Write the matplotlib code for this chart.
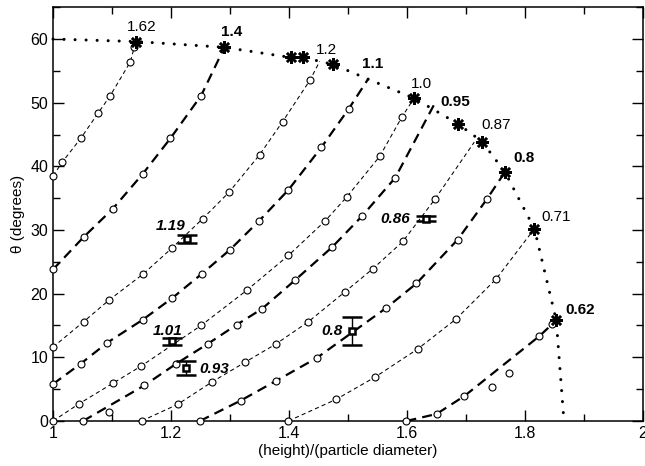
import matplotlib
matplotlib.use("Agg")
import matplotlib.pyplot as plt
from matplotlib.ticker import MultipleLocator

plt.rcParams['font.family'] = ['Liberation Sans', 'DejaVu Sans']

# curvas teoricas (circulos), alternando punteada fina / trazo grueso
ax_A = [1.0, 1.016, 1.047, 1.076, 1.097, 1.131, 1.138, 1.141]
ay_A = [38.5, 40.7, 44.4, 48.3, 51.1, 56.4, 58.8, 59.6]
ax_B = [1.0, 1.052, 1.101, 1.152, 1.199, 1.251, 1.288]
ay_B = [23.8, 28.9, 33.3, 38.8, 44.4, 51.1, 58.2]
ax_C = [1.0, 1.052, 1.095, 1.153, 1.202, 1.254, 1.298, 1.350, 1.389, 1.436, 1.452]
ay_C = [11.6, 15.6, 19.0, 23.1, 27.2, 31.8, 35.9, 41.8, 47.0, 53.6, 56.5]
ax_D = [1.0, 1.047, 1.092, 1.152, 1.202, 1.252, 1.300, 1.349, 1.399, 1.455, 1.501, 1.534]
ay_D = [5.8, 9.0, 12.3, 15.9, 19.3, 23.1, 26.9, 31.4, 36.3, 43.0, 49.0, 53.7]
ax_E = [1.0, 1.044, 1.101, 1.149, 1.251, 1.328, 1.399, 1.461, 1.498, 1.554, 1.591, 1.612]
ay_E = [0.0, 2.7, 5.9, 8.6, 15.0, 20.5, 26.0, 31.4, 35.2, 41.6, 47.7, 50.7]
ax_F = [1.051, 1.155, 1.209, 1.262, 1.311, 1.354, 1.410, 1.473, 1.524, 1.580, 1.650]
ay_F = [0.0, 5.6, 9.0, 12.1, 15.1, 17.6, 22.1, 27.3, 32.2, 38.2, 50.4]
ax_G = [1.150, 1.211, 1.269, 1.325, 1.378, 1.433, 1.495, 1.542, 1.593, 1.647, 1.714]
ay_G = [0.0, 2.6, 6.1, 9.2, 12.1, 15.6, 20.3, 23.9, 28.2, 34.8, 43.8]
ax_H = [1.249, 1.318, 1.378, 1.447, 1.564, 1.616, 1.686, 1.735, 1.766]
ay_H = [0.0, 3.2, 6.3, 9.9, 17.7, 21.6, 28.5, 34.8, 39.1]
ax_I = [1.399, 1.480, 1.546, 1.618, 1.683, 1.751, 1.816]
ay_I = [0.0, 3.4, 6.9, 11.3, 16.0, 22.3, 30.2]
ax_J = [1.599, 1.650, 1.697, 1.824, 1.846, 1.853]
ay_J = [0.0, 1.1, 3.9, 13.3, 15.2, 15.8]
# circulos fuera de las lineas
sx = [1.095, 1.744, 1.773]
sy = [1.4, 5.4, 7.5]

# frontera (linea de puntos) y estrellas
bx = [1.0, 1.141, 1.290, 1.403, 1.424, 1.452, 1.475, 1.534, 1.612, 1.686, 1.727, 1.766, 1.816, 1.853, 1.866]
by = [60.0, 59.6, 58.7, 57.1, 57.1, 56.5, 56.0, 53.7, 50.7, 46.7, 43.9, 39.1, 30.2, 15.8, 0.0]
star_x = [1.141, 1.290, 1.403, 1.424, 1.475, 1.612, 1.686, 1.727, 1.766, 1.816, 1.853]
star_y = [59.6, 58.7, 57.1, 57.1, 56.0, 50.7, 46.7, 43.9, 39.1, 30.2, 15.8]

# etiquetas de las curvas
etq = ['1.62', '1.4', '1.2', '1.1', '1.0', '0.95', '0.87', '0.8', '0.71', '0.62']
etq_x = [1.151, 1.303, 1.464, 1.541, 1.625, 1.681, 1.751, 1.798, 1.852, 1.894]
etq_y = [61.9, 61.1, 58.3, 56.1, 52.9, 50.1, 46.5, 41.3, 32.1, 17.5]
etq_bold = [False, True, False, True, False, True, False, True, False, True]

# datos experimentales (cuadrados con barras de error)
exp_x = [1.227, 1.202, 1.225, 1.507, 1.633]
exp_y = [28.6, 12.5, 8.3, 14.2, 31.8]
exp_err = [0.65, 0.5, 1.1, 2.2, 0.4]
exp_lab = ['1.19', '1.01', '0.93', '0.8', '0.86']
exp_lx = [1.200, 1.195, 1.274, 1.473, 1.580]
exp_ly = [30.6, 14.2, 8.2, 14.1, 31.7]

fig = plt.figure(figsize=(6.45, 4.66), dpi=100)
ax = fig.add_axes([0.0822, 0.0966, 0.9147, 0.888])

fino = dict(color='black', lw=0.75, ls=(0, (4, 3)), marker='o', ms=5,
            mfc='white', mec='black', mew=0.8)
grueso = dict(color='black', lw=1.6, ls=(0, (4.5, 2.8)), marker='o', ms=5,
              mfc='white', mec='black', mew=0.8)

curvas = [(ax_A, ay_A), (ax_B, ay_B), (ax_C, ay_C), (ax_D, ay_D), (ax_E, ay_E),
          (ax_F, ay_F), (ax_G, ay_G), (ax_H, ay_H), (ax_I, ay_I), (ax_J, ay_J)]
for i, (cx, cy) in enumerate(curvas):
    estilo = fino if i % 2 == 0 else grueso
    ax.plot(cx, cy, markevery=list(range(len(cx) - 1)) if i != 0 else list(range(len(cx) - 1)),
            clip_on=False, zorder=3, **estilo)
ax.plot(sx, sy, 'o', ms=5, mfc='white', mec='black', mew=0.8, zorder=3)

ax.plot(bx, by, color='black', lw=2.2, ls=(0, (0.01, 3.6)),
        dash_capstyle='round', clip_on=False, zorder=2)
ax.plot(star_x, star_y, ls='none', marker=(8, 2, 0), ms=9, mew=1.8,
        color='black', zorder=4)

for t, x, y, b in zip(etq, etq_x, etq_y, etq_bold):
    ax.text(x, y, t, ha='center', va='center', fontsize=11,
            fontweight='bold' if b else 'normal')

ax.errorbar(exp_x, exp_y, yerr=exp_err, fmt='s', ms=5, mfc='white', mec='black',
            mew=1.8, ecolor='black', elinewidth=1, capsize=7.5, capthick=1, zorder=5)
for t, x, y in zip(exp_lab, exp_lx, exp_ly):
    ax.text(x, y, t, ha='center', va='center', fontsize=11,
            fontweight='bold', fontstyle='italic', zorder=6)

ax.set_xlim(1, 2)
ax.set_ylim(0, 65)
ax.xaxis.set_major_locator(MultipleLocator(0.2))
ax.xaxis.set_minor_locator(MultipleLocator(0.1))
ax.yaxis.set_major_locator(MultipleLocator(10))
ax.yaxis.set_minor_locator(MultipleLocator(5))
ax.set_xticks([1, 1.2, 1.4, 1.6, 1.8, 2])
ax.set_xticklabels(['1', '1.2', '1.4', '1.6', '1.8', '2'])
ax.tick_params(which='both', direction='in', top=True, right=True,
               labelsize=11.5, width=1)
ax.tick_params(which='major', length=8, pad=3.5)
ax.tick_params(which='minor', length=5)
for s in ax.spines.values():
    s.set_linewidth(1.1)

ax.set_xlabel('(height)/(particle diameter)', fontsize=11, labelpad=2)
ax.set_ylabel('θ (degrees)', fontsize=11, labelpad=4)

fig.savefig('out.png', dpi=100)
